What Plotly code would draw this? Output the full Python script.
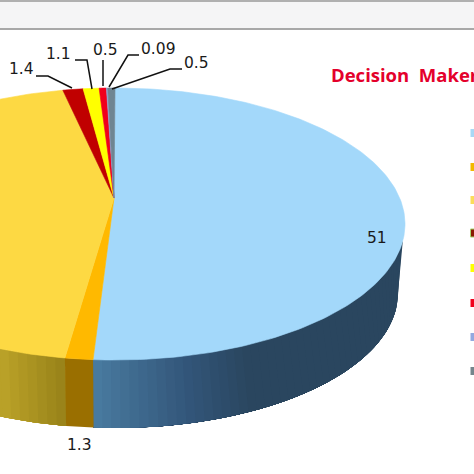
# %%============== Import libraries =========
import numpy as np
import plotly.graph_objects as go

# %%==============  Chart values  =========
slice_values = [51, 1.3, 44.1, 1.4, 1.1, 0.5, 0.09, 0.5]
slice_colors = ["#a3d8fa", "#ffb900", "#fdd943", "#c00000", "#ffff00", "#f0001c", "#8ea9db", "#6f8592"]
slice_labels = ["51", "1.3", "", "1.4", "1.1", "0.5", "0.09", "0.5"]
legend_colors = ["#a9d8f5", "#f2b800", "#fbdc5a", "#8a1a00", "#ffff00", "#f0001c", "#93a9e0", "#75858c"]
title_text = "Decision\u00a0\u00a0Maker"

# side shading, left to right across the picture
blue_side_x = [93, 190, 250, 410]
blue_side_rgb = [(75, 126, 163), (51, 86, 122), (42, 70, 95), (42, 70, 95)]
yellow_side_x = [0, 65]
yellow_side_rgb = [(185, 161, 40), (149, 128, 24)]
orange_side = "#9a6f00"

# pie geometry in pixels
cx, cy, a, b = 115, 224, 290, 136
low_cy, low_a, low_b = 293, 283, 135
apex = (114, 198)
persp = 0.2


def warp(t):
    # back of the pie is squeezed, front stretched
    return t - persp * np.sin(t)


def rim(u):
    return cx + a * np.sin(u), cy - b * np.cos(u)


def low_rim(u):
    # lower edge lags the upper one near the right end
    shift = np.radians(7) * np.clip((np.radians(180) - u) / np.radians(83), 0, 1)
    u2 = u - shift
    return cx + low_a * np.sin(u2), low_cy - low_b * np.cos(u2)


def side_color(x, xs, rgbs):
    return "rgb(%d,%d,%d)" % tuple(np.interp(x, xs, [c[i] for c in rgbs]) for i in range(3))


fig = go.Figure()


def add_poly(xs, ys, color, width=0.6):
    fig.add_trace(go.Scatter(x=xs, y=ys, mode="lines", fill="toself", fillcolor=color,
                             line=dict(color=color, width=width), hoverinfo="skip", showlegend=False))


def add_side_band(us, xs_key, rgb_key):
    # every strip runs on to the far end of the wall, the next strip paints over it, so no seams
    for u0 in us[:-1]:
        run = np.linspace(u0, us[-1], 40)
        xt, yt = rim(run)
        xb, yb = low_rim(run)
        xt0, _ = rim(u0)
        color = side_color(xt0, xs_key, rgb_key)
        add_poly(list(xt) + list(xb[::-1]), list(yt) + list(yb[::-1]), color, width=0)


# %%==============  Slice angles from the values   =========
fractions = np.array(slice_values) / sum(slice_values)
edges = np.concatenate([[0], np.cumsum(fractions)]) * 2 * np.pi

# %%==============  Side wall   =========
u_start = np.radians(97)
u_blue = warp(edges[1])
u_orange = warp(edges[2])
u_end = np.radians(215)

add_side_band(np.linspace(u_end, u_orange, 14), yellow_side_x, yellow_side_rgb)
add_side_band(np.linspace(u_start, u_blue, 50), blue_side_x, blue_side_rgb)

orange_us = np.linspace(u_blue, u_orange, 4)
xo, yo = rim(orange_us)
xl, yl = low_rim(orange_us)
add_poly(list(xo) + list(xl[::-1]), list(yo) + list(yl[::-1]), orange_side, width=0)

# %%==============  Top face   =========
for i, color in enumerate(slice_colors):
    n = max(int((edges[i + 1] - edges[i]) * 60), 3)
    us = warp(np.linspace(edges[i], edges[i + 1], n))
    xs, ys = rim(us)
    add_poly([apex[0]] + list(xs) + [apex[0]], [apex[1]] + list(ys) + [apex[1]], color)

# %%==============  Leader lines and labels   =========
leaders = [
    ([36, 48, 72], [76, 76, 88]),
    ([75, 87, 92], [60, 60, 89]),
    ([103, 103], [60, 86]),
    ([139, 128, 109], [55, 55, 87]),
    ([182, 170, 112], [69, 69, 89]),
]
for lx, ly in leaders:
    fig.add_trace(go.Scatter(x=lx, y=ly, mode="lines", line=dict(color="#111111", width=1.5),
                             hoverinfo="skip", showlegend=False))

label_pos = [(377, 238), (79, 445), None, (21, 69), (58, 54), (105, 50), (158, 49), (196, 63)]
for text, pos in zip(slice_labels, label_pos):
    if pos:
        fig.add_annotation(x=pos[0], y=pos[1], text=text, showarrow=False,
                           font=dict(family="DejaVu Sans", size=15.5, color="#1a1a1a"))

# %%==============  Legend keys (clipped by the right edge)   =========
legend_y = [133, 167, 200, 233, 268, 303, 337, 371]
legend_x = [474.5] * len(legend_y)
legend_border = ["rgba(0,0,0,0)"] * len(legend_y)
legend_border[3] = "#a5d46a"
fig.add_trace(go.Scatter(x=legend_x, y=legend_y, mode="markers", hoverinfo="skip", showlegend=False,
                         marker=dict(symbol="square", size=8, color=legend_colors,
                                     line=dict(color=legend_border, width=1))))

fig.add_annotation(x=329, y=74, text="<b>%s</b>" % title_text, showarrow=False, xanchor="left",
                   font=dict(family="Open Sans", size=18.5, color="#e4002b"))

# %%================ Layout ========================
fig.update_layout(
    width=474, height=474, margin=dict(l=0, r=0, t=0, b=0),
    paper_bgcolor="white", plot_bgcolor="white",
    xaxis=dict(range=[0, 474], visible=False, fixedrange=True),
    yaxis=dict(range=[474, 0], visible=False, fixedrange=True),
    shapes=[
        dict(type="rect", x0=0, x1=474, y0=2, y1=28, fillcolor="#f5f5f6", line_width=0, layer="below"),
        dict(type="rect", x0=0, x1=474, y0=0, y1=2, fillcolor="#b0b0b0", line_width=0, layer="below"),
        dict(type="rect", x0=0, x1=474, y0=28, y1=30, fillcolor="#a8a8a8", line_width=0, layer="below"),
    ],
)

fig.write_html("out.html", config=dict(displayModeBar=False),
               post_script="document.body.style.margin='0';document.body.style.overflow='hidden';")
